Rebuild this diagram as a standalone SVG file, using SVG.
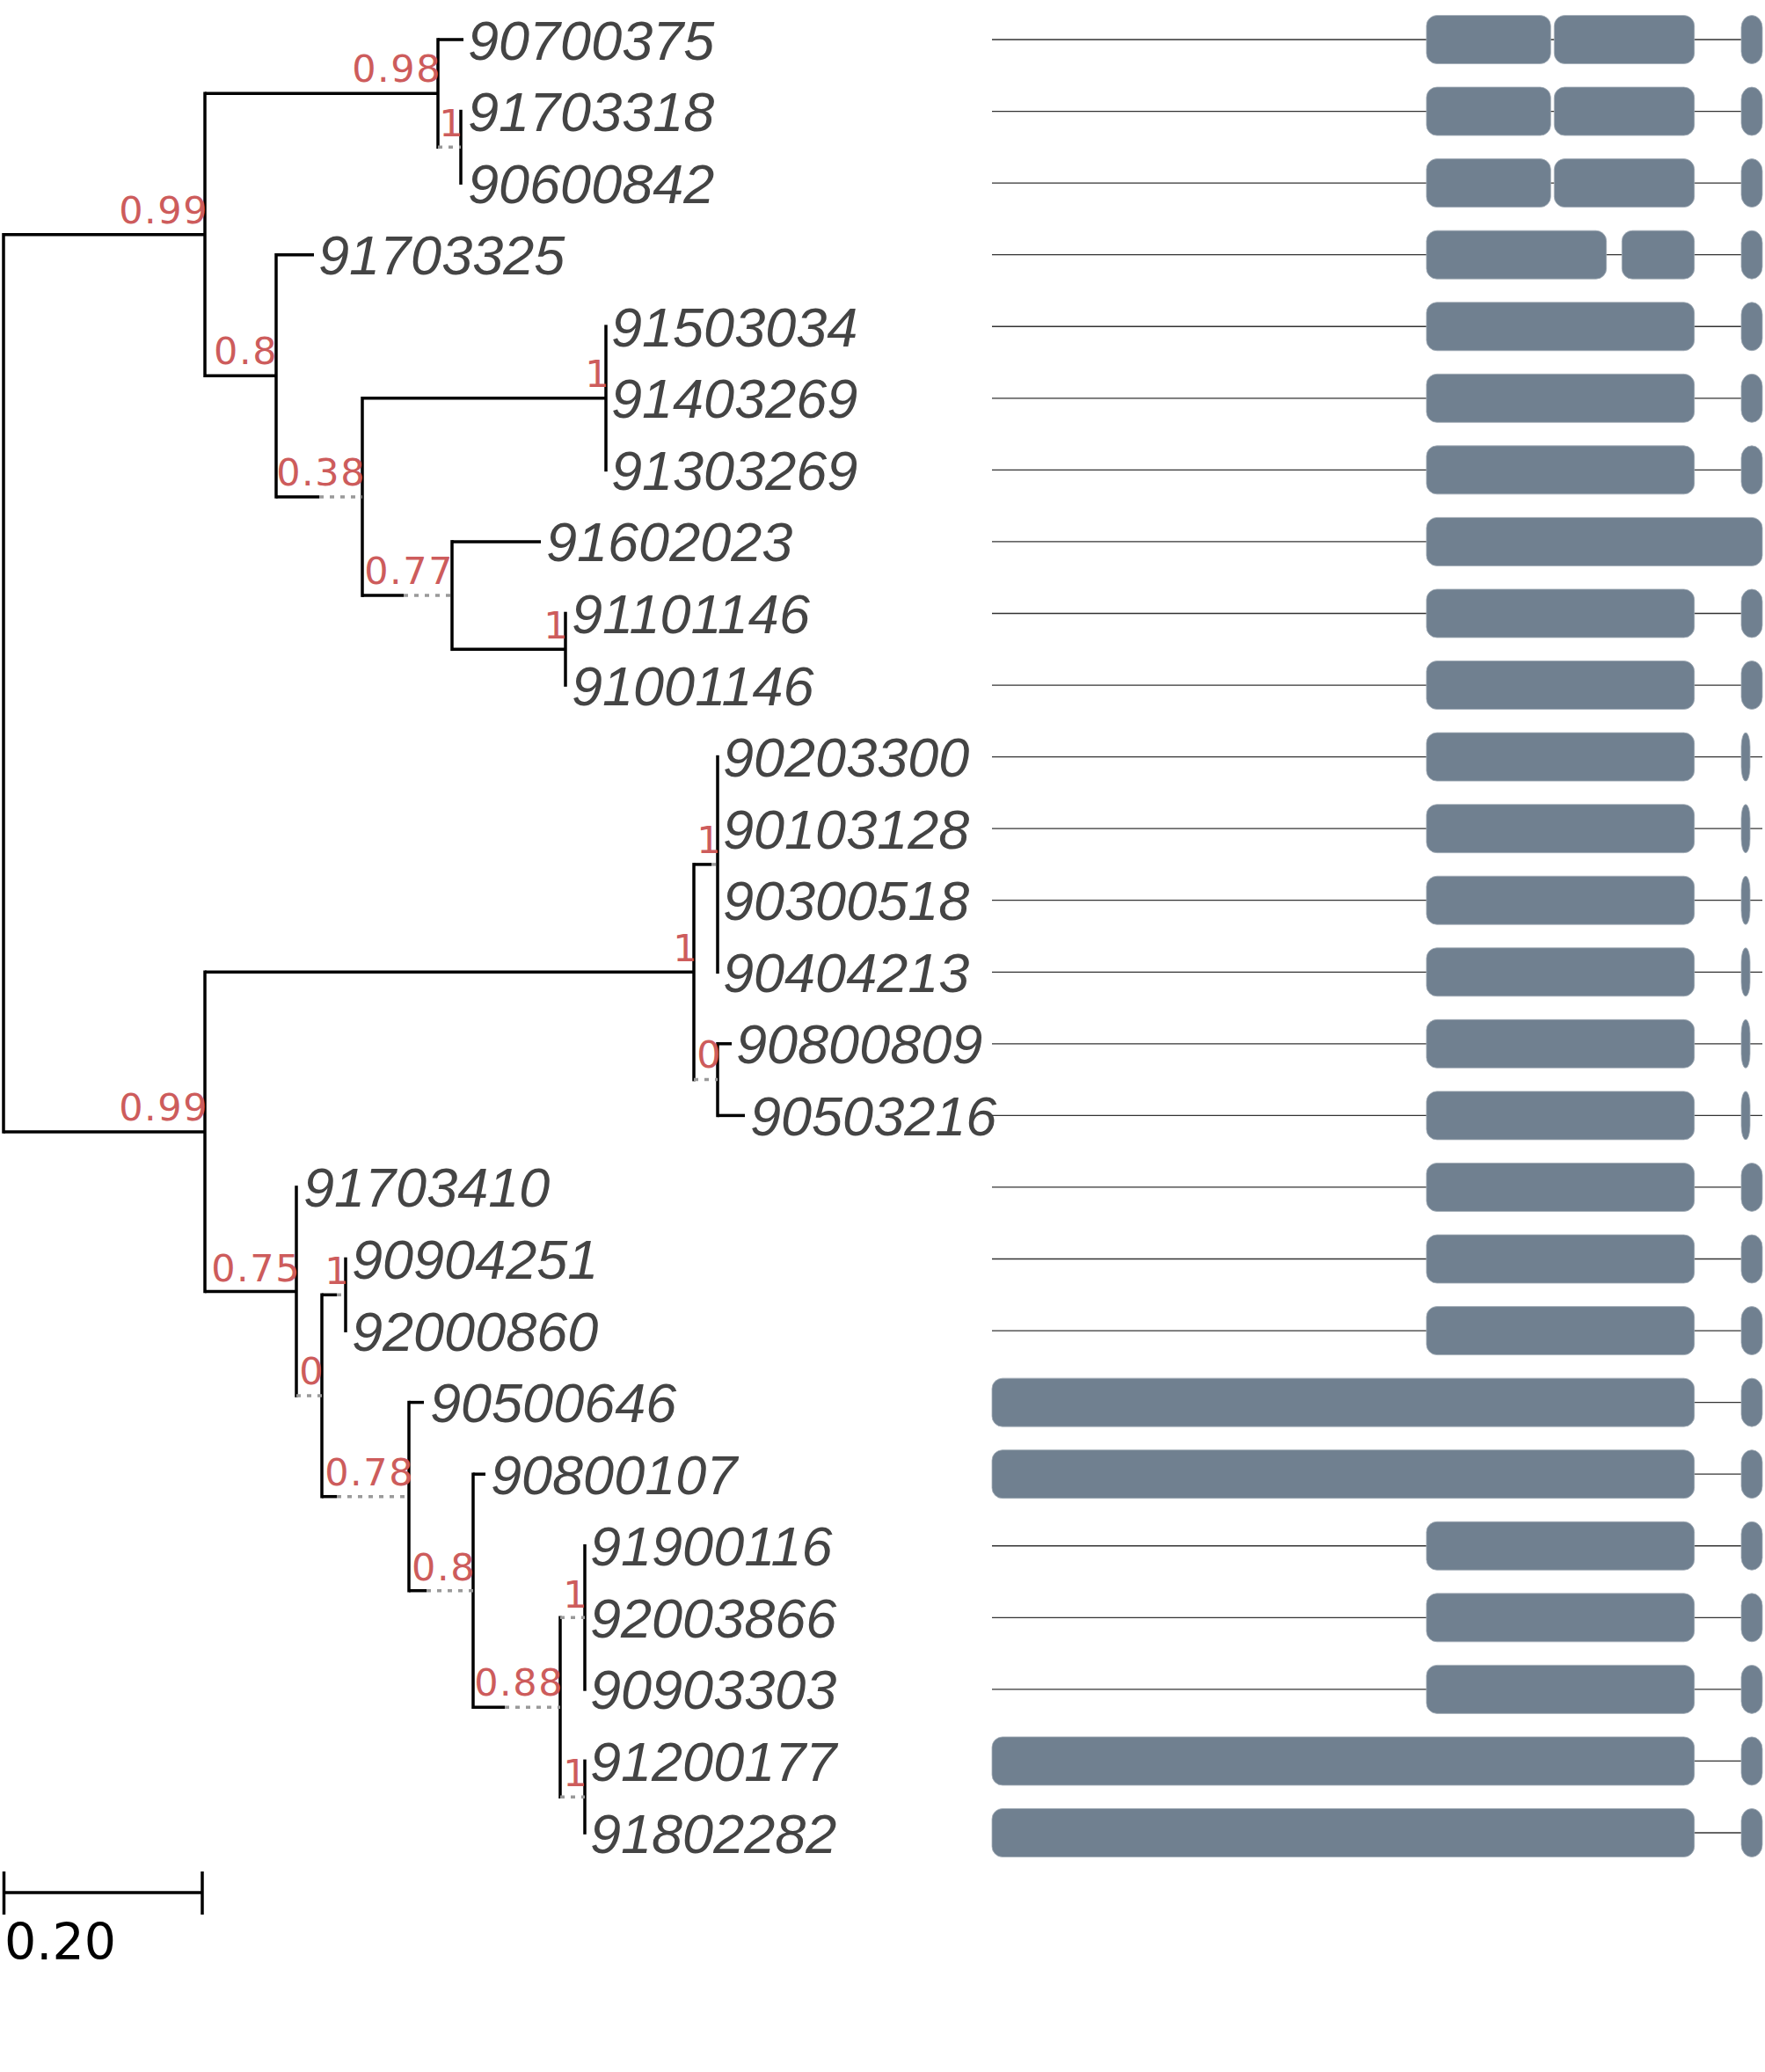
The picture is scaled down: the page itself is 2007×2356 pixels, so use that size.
<svg xmlns="http://www.w3.org/2000/svg" width="2007" height="2356" viewBox="0 0 2007 2356">
<style>
.br{stroke:#000;stroke-width:3.5;fill:none}
.dt{stroke:#999;stroke-width:3.5;stroke-dasharray:5 7;fill:none}
.sup{font-family:"DejaVu Sans",sans-serif;font-size:43px;letter-spacing:1.5px;fill:#cd5c5c;text-anchor:end}
.lf{font-family:"Liberation Sans",Arial,sans-serif;font-style:italic;font-size:63px;fill:#444}
.bb{stroke:#333;stroke-width:1.3}
.ex{fill:#708090;stroke:#a3adb8;stroke-width:0.8}
.sc{font-family:"DejaVu Sans",sans-serif;font-size:57px;fill:#000}
</style>
<defs>
<g id="gA"><line class="bb" x1="1128" y1="0" x2="1980" y2="0"/><rect class="ex" x="1622" y="-27.5" width="141.3" height="55" rx="12"/><rect class="ex" x="1767.3" y="-27.5" width="159.4" height="55" rx="12"/><rect class="ex" x="1980" y="-27.5" width="24" height="55" rx="12" ry="14"/></g>
<g id="gB"><line class="bb" x1="1128" y1="0" x2="1980" y2="0"/><rect class="ex" x="1622" y="-27.5" width="204.7" height="55" rx="12"/><rect class="ex" x="1844.3" y="-27.5" width="82.4" height="55" rx="12"/><rect class="ex" x="1980" y="-27.5" width="24" height="55" rx="12" ry="14"/></g>
<g id="gC"><line class="bb" x1="1128" y1="0" x2="1980" y2="0"/><rect class="ex" x="1622" y="-27.5" width="304.7" height="55" rx="12"/><rect class="ex" x="1980" y="-27.5" width="24" height="55" rx="12" ry="14"/></g>
<g id="gD"><line class="bb" x1="1128" y1="0" x2="1622" y2="0"/><rect class="ex" x="1622" y="-27.5" width="382" height="55" rx="12"/></g>
<g id="gE"><line class="bb" x1="1128" y1="0" x2="2004" y2="0"/><rect class="ex" x="1622" y="-27.5" width="304.7" height="55" rx="12"/><rect class="ex" x="1980" y="-27.5" width="10" height="55" rx="5" ry="16"/></g>
<g id="gF"><line class="bb" x1="1926" y1="0" x2="1980" y2="0"/><rect class="ex" x="1128" y="-27.5" width="798.7" height="55" rx="12"/><rect class="ex" x="1980" y="-27.5" width="24" height="55" rx="12" ry="14"/></g>
</defs>
<rect x="0" y="0" width="2007" height="2356" fill="#fff"/>

<g id="connectors">
<line class="br" x1="4" y1="265" x2="4" y2="1288.7"/>
<line class="br" x1="233" y1="104.4" x2="233" y2="429.1"/>
<line class="br" x1="233" y1="1103.5" x2="233" y2="1470.3"/>
<line class="br" x1="498" y1="43.2" x2="498" y2="169.1"/>
<line class="br" x1="524" y1="124.8" x2="524" y2="209.9"/>
<line class="br" x1="314" y1="287.9" x2="314" y2="566.8"/>
<line class="br" x1="412" y1="451" x2="412" y2="678.9"/>
<line class="br" x1="689" y1="369.4" x2="689" y2="536.2"/>
<line class="br" x1="514" y1="614.1" x2="514" y2="740.1"/>
<line class="br" x1="643" y1="695.7" x2="643" y2="780.8"/>
<line class="br" x1="789" y1="981.1" x2="789" y2="1229.4"/>
<line class="br" x1="816" y1="858.8" x2="816" y2="1107.1"/>
<line class="br" x1="816" y1="1185" x2="816" y2="1270.2"/>
<line class="br" x1="337" y1="1348.2" x2="337" y2="1588.8"/>
<line class="br" x1="393" y1="1429.7" x2="393" y2="1514.9"/>
<line class="br" x1="366" y1="1470.5" x2="366" y2="1703.5"/>
<line class="br" x1="465" y1="1592.8" x2="465" y2="1810.5"/>
<line class="br" x1="538" y1="1674.4" x2="538" y2="1943.1"/>
<line class="br" x1="637" y1="1837.5" x2="637" y2="2045"/>
<line class="br" x1="665" y1="1756" x2="665" y2="1922.7"/>
<line class="br" x1="665" y1="2000.6" x2="665" y2="2085.8"/>
<line class="br" x1="4" y1="266.8" x2="233" y2="266.8"/>
<line class="br" x1="4" y1="1286.9" x2="233" y2="1286.9"/>
<line class="br" x1="233" y1="106.2" x2="498" y2="106.2"/>
<line class="br" x1="233" y1="427.3" x2="314" y2="427.3"/>
<line class="br" x1="498" y1="45" x2="527" y2="45"/>
<line class="dt" x1="498" y1="167.3" x2="524" y2="167.3"/>
<line class="br" x1="314" y1="289.7" x2="357" y2="289.7"/>
<line class="br" x1="314" y1="565" x2="363" y2="565"/>
<line class="dt" x1="363" y1="565" x2="412" y2="565"/>
<line class="br" x1="412" y1="452.8" x2="689" y2="452.8"/>
<line class="br" x1="412" y1="677.1" x2="459" y2="677.1"/>
<line class="dt" x1="459" y1="677.1" x2="514" y2="677.1"/>
<line class="br" x1="514" y1="615.9" x2="615" y2="615.9"/>
<line class="br" x1="514" y1="738.3" x2="643" y2="738.3"/>
<line class="br" x1="233" y1="1105.3" x2="789" y2="1105.3"/>
<line class="br" x1="789" y1="982.9" x2="809" y2="982.9"/>
<line class="dt" x1="809" y1="982.9" x2="816" y2="982.9"/>
<line class="dt" x1="789" y1="1227.6" x2="816" y2="1227.6"/>
<line class="br" x1="816" y1="1186.8" x2="832" y2="1186.8"/>
<line class="br" x1="816" y1="1268.4" x2="847" y2="1268.4"/>
<line class="br" x1="233" y1="1468.5" x2="337" y2="1468.5"/>
<line class="br" x1="366" y1="1472.3" x2="383" y2="1472.3"/>
<line class="dt" x1="383" y1="1472.3" x2="393" y2="1472.3"/>
<line class="dt" x1="337" y1="1587" x2="366" y2="1587"/>
<line class="br" x1="366" y1="1701.7" x2="383" y2="1701.7"/>
<line class="dt" x1="383" y1="1701.7" x2="465" y2="1701.7"/>
<line class="br" x1="465" y1="1594.6" x2="482" y2="1594.6"/>
<line class="br" x1="465" y1="1808.7" x2="485" y2="1808.7"/>
<line class="dt" x1="485" y1="1808.7" x2="538" y2="1808.7"/>
<line class="br" x1="538" y1="1676.2" x2="552" y2="1676.2"/>
<line class="br" x1="538" y1="1941.3" x2="574" y2="1941.3"/>
<line class="dt" x1="574" y1="1941.3" x2="637" y2="1941.3"/>
<line class="dt" x1="637" y1="1839.3" x2="665" y2="1839.3"/>
<line class="dt" x1="637" y1="2043.2" x2="665" y2="2043.2"/>
</g>

<g id="internal-nodes" transform="translate(2,0)">
<g id="n-top099"><text class="sup" x="235" y="254">0.99</text></g>
<g id="n-098"><text class="sup" x="500" y="93">0.98</text></g>
<g id="n-1a"><text class="sup" x="526" y="155">1</text></g>
<g id="n-08a"><text class="sup" x="314" y="414">0.8</text></g>
<g id="n-038"><text class="sup" x="414" y="552">0.38</text></g>
<g id="n-1b"><text class="sup" x="692" y="440">1</text></g>
<g id="n-077"><text class="sup" x="514" y="664">0.77</text></g>
<g id="n-1c"><text class="sup" x="645" y="726">1</text></g>
<g id="n-1d"><text class="sup" x="792" y="1093">1</text></g>
<g id="n-1e"><text class="sup" x="819" y="970">1</text></g>
<g id="n-0a"><text class="sup" x="819" y="1214">0</text></g>
<g id="n-bot099"><text class="sup" x="235" y="1274">0.99</text></g>
<g id="n-075"><text class="sup" x="340" y="1457">0.75</text></g>
<g id="n-1f"><text class="sup" x="396" y="1460">1</text></g>
<g id="n-0b"><text class="sup" x="367" y="1574">0</text></g>
<g id="n-078"><text class="sup" x="469" y="1689">0.78</text></g>
<g id="n-08b"><text class="sup" x="539" y="1797">0.8</text></g>
<g id="n-088"><text class="sup" x="639" y="1928">0.88</text></g>
<g id="n-1g"><text class="sup" x="667" y="1828">1</text></g>
<g id="n-1h"><text class="sup" x="667" y="2031">1</text></g>
</g>

<g id="leaves">
<g id="leaf-90700375"><text class="lf" x="532" y="67.5">90700375</text><use href="#gA" y="45"/></g>
<g id="leaf-91703318"><text class="lf" x="532" y="149.06">91703318</text><use href="#gA" y="126.56"/></g>
<g id="leaf-90600842"><text class="lf" x="532" y="230.62">90600842</text><use href="#gA" y="208.12"/></g>
<g id="leaf-91703325"><text class="lf" x="362" y="312.18">91703325</text><use href="#gB" y="289.68"/></g>
<g id="leaf-91503034"><text class="lf" x="695" y="393.74">91503034</text><use href="#gC" y="371.24"/></g>
<g id="leaf-91403269"><text class="lf" x="695" y="475.3">91403269</text><use href="#gC" y="452.8"/></g>
<g id="leaf-91303269"><text class="lf" x="695" y="556.86">91303269</text><use href="#gC" y="534.36"/></g>
<g id="leaf-91602023"><text class="lf" x="621" y="638.42">91602023</text><use href="#gD" y="615.92"/></g>
<g id="leaf-91101146"><text class="lf" x="650" y="719.98">91101146</text><use href="#gC" y="697.48"/></g>
<g id="leaf-91001146"><text class="lf" x="650" y="801.54">91001146</text><use href="#gC" y="779.04"/></g>
<g id="leaf-90203300"><text class="lf" x="822" y="883.1">90203300</text><use href="#gE" y="860.6"/></g>
<g id="leaf-90103128"><text class="lf" x="822" y="964.66">90103128</text><use href="#gE" y="942.16"/></g>
<g id="leaf-90300518"><text class="lf" x="822" y="1046.22">90300518</text><use href="#gE" y="1023.72"/></g>
<g id="leaf-90404213"><text class="lf" x="822" y="1127.78">90404213</text><use href="#gE" y="1105.28"/></g>
<g id="leaf-90800809"><text class="lf" x="837" y="1209.34">90800809</text><use href="#gE" y="1186.84"/></g>
<g id="leaf-90503216"><text class="lf" x="853" y="1290.9">90503216</text><use href="#gE" y="1268.4"/></g>
<g id="leaf-91703410"><text class="lf" x="345" y="1372.46">91703410</text><use href="#gC" y="1349.96"/></g>
<g id="leaf-90904251"><text class="lf" x="400" y="1454.02">90904251</text><use href="#gC" y="1431.52"/></g>
<g id="leaf-92000860"><text class="lf" x="400" y="1535.58">92000860</text><use href="#gC" y="1513.08"/></g>
<g id="leaf-90500646"><text class="lf" x="489" y="1617.14">90500646</text><use href="#gF" y="1594.64"/></g>
<g id="leaf-90800107"><text class="lf" x="558" y="1698.7">90800107</text><use href="#gF" y="1676.2"/></g>
<g id="leaf-91900116"><text class="lf" x="671" y="1780.26">91900116</text><use href="#gC" y="1757.76"/></g>
<g id="leaf-92003866"><text class="lf" x="671" y="1861.82">92003866</text><use href="#gC" y="1839.32"/></g>
<g id="leaf-90903303"><text class="lf" x="671" y="1943.38">90903303</text><use href="#gC" y="1920.88"/></g>
<g id="leaf-91200177"><text class="lf" x="671" y="2024.94">91200177</text><use href="#gF" y="2002.44"/></g>
<g id="leaf-91802282"><text class="lf" x="671" y="2106.5">91802282</text><use href="#gF" y="2084"/></g>
</g>

<g id="scale-bar">
<line class="br" x1="4.5" y1="2152" x2="230" y2="2152"/>
<line class="br" x1="4.5" y1="2128" x2="4.5" y2="2177"/>
<line class="br" x1="230" y1="2128" x2="230" y2="2177"/>
<text class="sc" x="5" y="2228">0.20</text>
</g>
</svg>
